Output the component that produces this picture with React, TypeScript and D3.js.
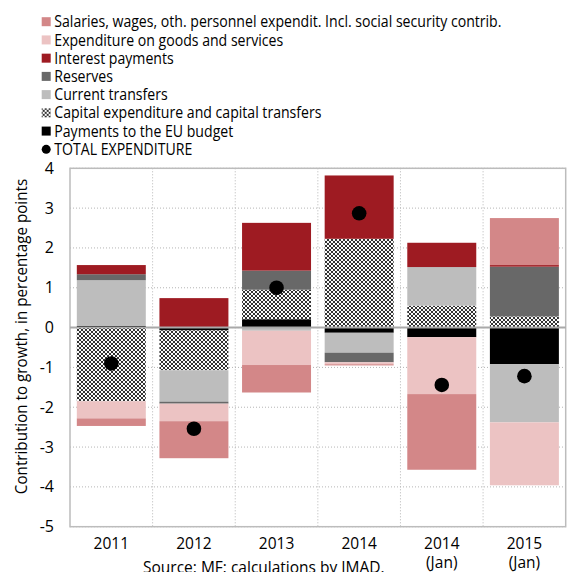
import React from "react";
import * as d3 from "d3";

const categories = ["2011", "2012", "2013", "2014", "2014J", "2015J"];
const categoryLabels = [["2011"], ["2012"], ["2013"], ["2014"], ["2014", "(Jan)"], ["2015", "(Jan)"]];

// contributions to growth, percentage points
const salaries = [-0.19, -0.93, -0.69, -0.03, -1.9, 1.18];
const goods = [-0.43, -0.44, -0.86, -0.05, -1.43, -1.58];
const interest = [0.23, 0.74, 1.2, 1.59, 0.61, 0.04];
const reserves = [0.15, -0.05, 0.48, -0.24, 0, 1.25];
const current = [1.15, -0.79, -0.08, -0.5, 0.97, -1.46];
const capital = [-1.85, -1.0, 0.74, 2.23, 0.55, 0.28];
const euBudget = [0.04, -0.07, 0.21, -0.13, -0.24, -0.92];
const total = [-0.9, -2.54, 1.0, 2.87, -1.44, -1.22];

const yTicks = [4, 3, 2, 1, 0, -1, -2, -3, -4, -5];

const series = [
  { key: "salaries", label: "Salaries, wages, oth. personnel expendit. Incl. social security contrib.", values: salaries, color: "#d38788" },
  { key: "goods", label: "Expenditure on goods and services", values: goods, color: "#ecc3c3" },
  { key: "interest", label: "Interest payments", values: interest, color: "#9e1b22" },
  { key: "reserves", label: "Reserves", values: reserves, color: "#686868" },
  { key: "current", label: "Current transfers", values: current, color: "#bdbdbd" },
  { key: "capital", label: "Capital expenditure and capital transfers", values: capital, color: "url(#checks)" },
  { key: "eu", label: "Payments to the EU budget", values: euBudget, color: "#000000" },
];

const FONT = "'Open Sans', sans-serif";
// the original face is narrower than Open Sans
const SQUEEZE = 0.91;

export default function App() {
  const width = 568;
  const height = 572;
  const margin = { left: 70, right: 2.3, top: 168.3, bottom: 45.3 };

  const x = d3.scaleBand<string>()
    .domain(categories)
    .range([margin.left, width - margin.right])
    .paddingInner(0.165)
    .paddingOuter(0.0825);
  const y = d3.scaleLinear().domain([-5, 4]).range([height - margin.bottom, margin.top]);

  // stack from zero outward in reverse legend order
  const stackKeys = series.map(s => s.key).reverse();
  const table = categories.map((c, i) => {
    const row: any = { cat: c };
    series.forEach(s => { row[s.key] = s.values[i]; });
    return row;
  });
  const stacked = d3.stack().keys(stackKeys).offset(d3.stackOffsetDiverging)(table);
  const colorOf = (k: string) => series.find(s => s.key === k)!.color;

  const x0 = margin.left;
  const x1 = width - margin.right;
  const step = x.step();
  const legendRow = (i: number) => 21.7 + i * 18.23;

  return (
    <svg width={width} height={height} style={{ position: "absolute", left: 0, top: 0, background: "#fff" }} fontFamily={FONT}>
      <defs>
        <pattern id="checks" width="4" height="4" patternUnits="userSpaceOnUse">
          <rect width="4" height="4" fill="#fff" />
          <circle cx="0" cy="0" r="1.1" fill="#000" />
          <circle cx="4" cy="0" r="1.1" fill="#000" />
          <circle cx="0" cy="4" r="1.1" fill="#000" />
          <circle cx="4" cy="4" r="1.1" fill="#000" />
          <circle cx="2" cy="2" r="1.1" fill="#000" />
        </pattern>
      </defs>

      {/* legend */}
      <g transform="translate(41.7,0)">
        {series.map((s, i) => (
          <g key={s.key} transform={`translate(0,${legendRow(i)})`}>
            <rect x={0} y={-4.5} width={9} height={9} fill={s.color} />
            <text transform={`translate(12.6,5.6) scale(${SQUEEZE},1)`} fontSize={15.5} fill="#000">{s.label}</text>
          </g>
        ))}
        <g transform={`translate(0,${legendRow(7)})`}>
          <circle cx={4.5} cy={0} r={4.5} fill="#000" />
          <text transform={`translate(12.6,5.6) scale(${SQUEEZE},1)`} fontSize={15.5} fill="#000">TOTAL EXPENDITURE</text>
        </g>
      </g>

      {/* grid */}
      {yTicks.map(t => (
        <line key={t} x1={x0} x2={x1} y1={y(t)} y2={y(t)} stroke="#b5b5b5" strokeWidth={1} strokeDasharray="1,2" />
      ))}
      {categories.slice(1).map((c, i) => (
        <line key={c} x1={x0 + step * (i + 1)} x2={x0 + step * (i + 1)} y1={y(4)} y2={y(-5)} stroke="#b5b5b5" strokeWidth={1} strokeDasharray="1,2" />
      ))}

      {/* bars */}
      {stacked.map(layer => (
        <g key={layer.key} fill={colorOf(layer.key)}>
          {layer.map((d, i) => {
            const top = y(Math.max(d[0], d[1]));
            const h = Math.abs(y(d[0]) - y(d[1]));
            if (h <= 0) return null;
            return <rect key={i} x={x(categories[i])} y={top} width={x.bandwidth()} height={h} />;
          })}
        </g>
      ))}

      {/* frame and zero line */}
      <rect x={x0} y={y(4)} width={x1 - x0} height={y(-5) - y(4)} fill="none" stroke="#bcbcbc" strokeWidth={1.5} />
      <line x1={x0} x2={x1} y1={y(0)} y2={y(0)} stroke="#a9a9a9" strokeWidth={2} />

      {/* totals */}
      {total.map((v, i) => (
        <circle key={i} cx={x(categories[i])! + x.bandwidth() / 2} cy={y(v)} r={7.3} fill="#000" />
      ))}

      {/* y axis labels */}
      {yTicks.map(t => (
        <text key={t} x={54} y={y(t) + 5.5} textAnchor="end" fontSize={16} fill="#000">{t}</text>
      ))}
      <text transform={`translate(27,336.5) rotate(-90) scale(0.95,1)`} textAnchor="middle" fontSize={16} fill="#000">
        Contribution to growth, in percentage points
      </text>

      {/* x axis labels */}
      {categories.map((c, i) => (
        <text key={c} x={x(c)! + x.bandwidth() / 2} y={549} textAnchor="middle" fontSize={15.5} fill="#000">
          {categoryLabels[i].map((l, j) => (
            <tspan key={j} x={x(c)! + x.bandwidth() / 2} dy={j === 0 ? 0 : 19}>{l}</tspan>
          ))}
        </text>
      ))}

      <text x={143} y={573} fontSize={15.5} fill="#000">Source: MF; calculations by IMAD.</text>
    </svg>
  );
}
